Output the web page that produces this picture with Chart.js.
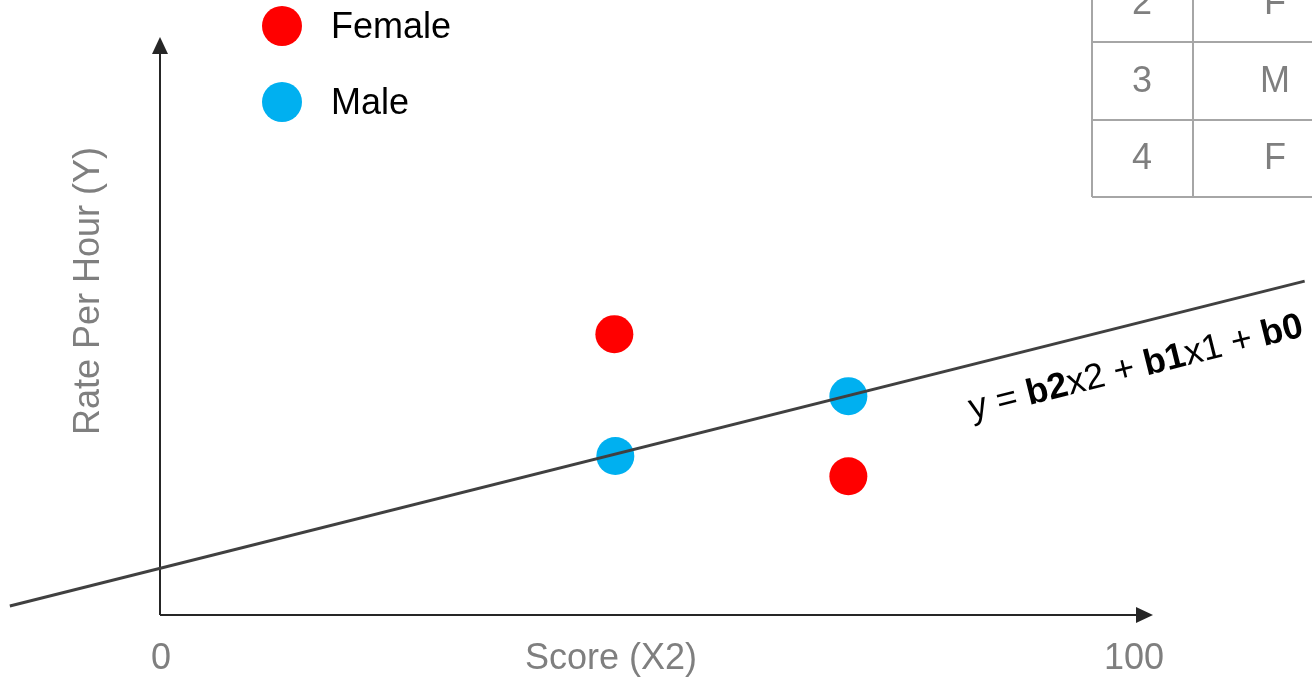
<!DOCTYPE html>
<html>
<head>
<meta charset="utf-8">
<script src="https://cdn.jsdelivr.net/npm/chart.js@4"></script>
<style>
  html, body { margin: 0; padding: 0; background: #fff; }
  #wrap { width: 1312px; height: 678px; }
</style>
</head>
<body>
<div id="wrap"><canvas id="chart" width="1312" height="678"></canvas></div>
<script>
// data (score 0-100, rate in arbitrary units)
const femaleX = [46.6, 70.6];
const femaleY = [49.8, 24.6];
const maleX = [70.6, 46.7];
const maleY = [38.8, 28.2];
const trendX = [-15.4, 117.4];
const trendY = [1.6, 59.2];
const xTickLabels = ['0', '100'];
const xTickValues = [0, 100];
const tableRows = [['2', 'F'], ['3', 'M'], ['4', 'F']];
const equationParts = [
    ['y = ', false], ['b2', true], ['x2 + ', false], ['b1', true], ['x1 + ', false], ['b0', true]
];

const FONT = '"Liberation Sans", Arial, sans-serif';
const SIZE = '36px ';
const GREY = '#7f7f7f';
const AXIS = '#262626';

function toPoints(xs, ys) {
    return xs.map((x, i) => ({ x: x, y: ys[i] }));
}

const overlay = {
    id: 'overlay',
    beforeDatasetsDraw(chart) {
        const ctx = chart.ctx;
        const xs = chart.scales.x, ys = chart.scales.y;
        const x0 = xs.getPixelForValue(0), y0 = ys.getPixelForValue(0);
        ctx.save();
        // axes
        ctx.strokeStyle = AXIS;
        ctx.fillStyle = AXIS;
        ctx.lineWidth = 2;
        ctx.beginPath();
        ctx.moveTo(x0, y0);
        ctx.lineTo(x0, 52);
        ctx.moveTo(x0, y0);
        ctx.lineTo(1138, y0);
        ctx.stroke();
        // arrow heads
        ctx.beginPath();
        ctx.moveTo(x0, 37);
        ctx.lineTo(x0 - 8, 54);
        ctx.lineTo(x0 + 8, 54);
        ctx.closePath();
        ctx.fill();
        ctx.beginPath();
        ctx.moveTo(1153, y0);
        ctx.lineTo(1136, y0 - 8);
        ctx.lineTo(1136, y0 + 8);
        ctx.closePath();
        ctx.fill();

        // table (partly off the top edge)
        ctx.strokeStyle = '#a6a6a6';
        ctx.lineWidth = 2;
        const colX = [1092, 1193, 1360];
        const rowY = [-36, 42, 120, 197];
        ctx.beginPath();
        colX.forEach(cx => { ctx.moveTo(cx, rowY[0]); ctx.lineTo(cx, rowY[3]); });
        rowY.forEach(ry => { ctx.moveTo(colX[0], ry); ctx.lineTo(colX[2], ry); });
        ctx.stroke();
        ctx.fillStyle = GREY;
        ctx.font = SIZE + FONT;
        ctx.textAlign = 'center';
        ctx.textBaseline = 'middle';
        tableRows.forEach((row, i) => {
            const cy = (rowY[i] + rowY[i + 1]) / 2 + 1;
            ctx.fillText(row[0], 1142, cy);
            ctx.fillText(row[1], 1275, cy);
        });
        ctx.restore();
    },
    afterDraw(chart) {
        const ctx = chart.ctx;
        const xs = chart.scales.x, ys = chart.scales.y;
        ctx.save();
        ctx.font = SIZE + FONT;
        ctx.fillStyle = GREY;
        ctx.textAlign = 'center';
        ctx.textBaseline = 'middle';
        xTickValues.forEach((v, i) => {
            ctx.fillText(xTickLabels[i], xs.getPixelForValue(v) + (i ? -1 : 1), 659);
        });
        ctx.fillText('Score (X2)', 611, 659);
        ctx.save();
        ctx.translate(89, 291);
        ctx.rotate(-Math.PI / 2);
        ctx.fillText('Rate Per Hour (Y)', 0, 0);
        ctx.restore();

        // legend
        const legend = [['Female', '#ff0000', 26], ['Male', '#00b0f0', 102]];
        legend.forEach(item => {
            ctx.fillStyle = item[1];
            ctx.beginPath();
            ctx.arc(282, item[2], 20, 0, Math.PI * 2);
            ctx.fill();
            ctx.fillStyle = '#000';
            ctx.textAlign = 'left';
            ctx.fillText(item[0], 331, item[2] + 2);
        });

        // equation along the trend line
        const p1 = { x: xs.getPixelForValue(trendX[0]), y: ys.getPixelForValue(trendY[0]) };
        const p2 = { x: xs.getPixelForValue(trendX[1]), y: ys.getPixelForValue(trendY[1]) };
        const ang = Math.atan2(p2.y - p1.y, p2.x - p1.x);
        let total = 0;
        equationParts.forEach(p => {
            ctx.font = (p[1] ? 'bold ' : '') + SIZE + FONT;
            total += ctx.measureText(p[0]).width;
        });
        ctx.translate(1136, 368);
        ctx.rotate(ang);
        ctx.fillStyle = '#000';
        ctx.textAlign = 'left';
        let cx = -total / 2;
        equationParts.forEach(p => {
            ctx.font = (p[1] ? 'bold ' : '') + SIZE + FONT;
            ctx.fillText(p[0], cx, 0);
            cx += ctx.measureText(p[0]).width;
        });
        ctx.restore();
    }
};

new Chart(document.getElementById('chart').getContext('2d'), {
    type: 'scatter',
    data: {
        datasets: [
            {
                label: 'Trend',
                type: 'line',
                data: toPoints(trendX, trendY),
                borderColor: '#404040',
                borderWidth: 3,
                pointRadius: 0,
                clip: false,
                order: 0
            },
            {
                label: 'Female',
                data: toPoints(femaleX, femaleY),
                backgroundColor: '#ff0000',
                borderWidth: 0,
                pointRadius: 19,
                clip: false,
                order: 1
            },
            {
                label: 'Male',
                data: toPoints(maleX, maleY),
                backgroundColor: '#00b0f0',
                borderWidth: 0,
                pointRadius: 19,
                clip: false,
                order: 1
            }
        ]
    },
    options: {
        responsive: false,
        animation: false,
        layout: { padding: { left: 160, right: 177, top: 51, bottom: 63 } },
        plugins: { legend: { display: false }, tooltip: { enabled: false } },
        scales: {
            x: { type: 'linear', min: 0, max: 100, display: false },
            y: { type: 'linear', min: 0, max: 100, display: false }
        }
    },
    plugins: [overlay]
});
</script>
</body>
</html>
